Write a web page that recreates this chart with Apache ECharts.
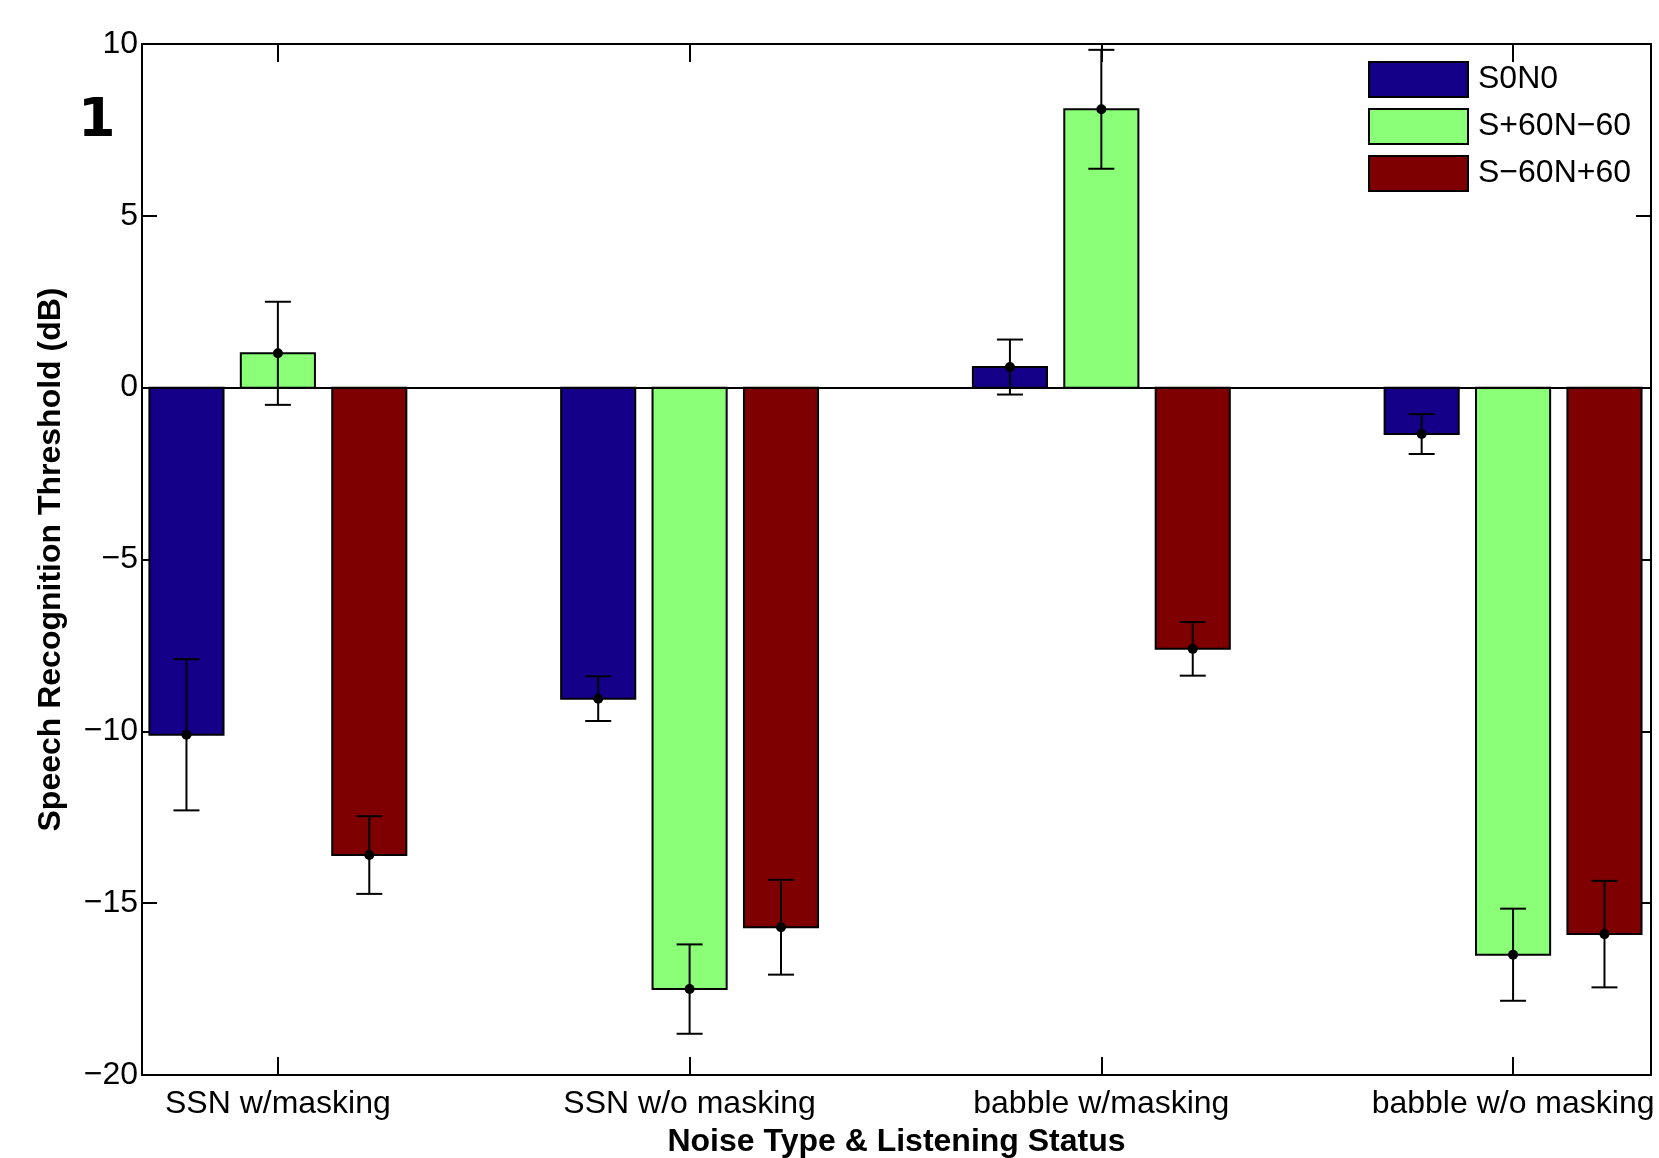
<!DOCTYPE html>
<html>
<head>
<meta charset="utf-8">
<title>Speech Recognition Threshold</title>
<script src="https://cdn.jsdelivr.net/npm/echarts@6/dist/echarts.min.js"></script>
<style>
  html, body { margin: 0; padding: 0; background: #fff; }
  #main { width: 1659px; height: 1158px; }
</style>
</head>
<body>
<div id="main"></div>
<script>
// x categories
var categories = ['SSN w/masking', 'SSN w/o masking', 'babble w/masking', 'babble w/o masking']
var seriesNames = ['S0N0', 'S+60N\u221260', 'S\u221260N+60']
// mean thresholds (dB)
var s0n0 = [-10.1, -9.05, 0.6, -1.35]
var sPlus60 = [1.0, -17.5, 8.1, -16.5]
var sMinus60 = [-13.6, -15.7, -7.6, -15.9]
// error bar half lengths (dB)
var s0n0Err = [2.2, 0.65, 0.8, 0.58]
var sPlus60Err = [1.5, 1.3, 1.73, 1.34]
var sMinus60Err = [1.13, 1.38, 0.78, 1.55]
var colors = ['#140088', '#8aff77', '#7f0000']

var FONT = 'Liberation Sans, Arial, sans-serif'
var BAR_W = 0.18
var offsets = [-0.222, 0, 0.222]

function toData (means, errs) {
  return means.map(function (m, i) { return [i + 1, m, errs[i]] })
}

function barItem (offset) {
  return function (params, api) {
    var x = api.value(0) + offset
    var v = api.value(1)
    var e = api.value(2)
    var p0 = api.coord([x - BAR_W / 2, 0])
    var p1 = api.coord([x + BAR_W / 2, v])
    var c = api.coord([x, v])
    var hi = api.coord([x, v + e])
    var lo = api.coord([x, v - e])
    var black = { stroke: '#000', lineWidth: 2 }
    return {
      type: 'group',
      children: [
        {
          type: 'rect',
          shape: { x: p0[0], y: Math.min(p0[1], p1[1]), width: p1[0] - p0[0], height: Math.abs(p1[1] - p0[1]) },
          style: { fill: api.visual('color'), stroke: '#000', lineWidth: 2 }
        },
        { type: 'line', shape: { x1: c[0], y1: hi[1], x2: c[0], y2: lo[1] }, style: black },
        { type: 'line', shape: { x1: c[0] - 13, y1: hi[1], x2: c[0] + 13, y2: hi[1] }, style: black },
        { type: 'line', shape: { x1: c[0] - 13, y1: lo[1], x2: c[0] + 13, y2: lo[1] }, style: black },
        { type: 'circle', shape: { cx: c[0], cy: c[1], r: 5 }, style: { fill: '#000' } }
      ]
    }
  }
}

var allData = [toData(s0n0, s0n0Err), toData(sPlus60, sPlus60Err), toData(sMinus60, sMinus60Err)]

var axisLine = { show: true, onZero: false, lineStyle: { color: '#000', width: 2 } }
var tickVals = categories.map(function (c, i) { return i + 1 })

var myChart = echarts.init(document.getElementById('main'))
myChart.setOption({
  animation: false,
  backgroundColor: '#fff',
  grid: { left: 142, top: 44, width: 1509, height: 1031, containLabel: false, outerBoundsMode: 'none' },
  legend: {
    orient: 'vertical',
    left: 1363,
    top: 56,
    itemWidth: 99,
    itemHeight: 35,
    itemGap: 10,
    icon: 'rect',
    itemStyle: { borderColor: '#000', borderWidth: 2 },
    textStyle: { fontSize: 32, color: '#000', fontFamily: FONT, padding: [0, 0, 0, 5] },
    data: seriesNames
  },
  xAxis: [
    {
      type: 'value',
      min: 0.67,
      max: 4.335,
      position: 'bottom',
      axisLine: axisLine,
      axisTick: { inside: true, length: 18, customValues: tickVals, lineStyle: { color: '#000', width: 2 } },
      axisLabel: {
        customValues: tickVals,
        formatter: function (v) { return categories[Math.round(v) - 1] },
        color: '#000',
        fontSize: 32,
        fontFamily: FONT,
        margin: 13
      },
      splitLine: { show: false },
      name: 'Noise Type & Listening Status',
      nameLocation: 'middle',
      nameGap: 51,
      nameTextStyle: { fontSize: 32, fontWeight: 'bold', color: '#000', fontFamily: FONT }
    },
    {
      type: 'value',
      min: 0.67,
      max: 4.335,
      position: 'top',
      axisLine: axisLine,
      axisTick: { inside: true, length: 18, customValues: tickVals, lineStyle: { color: '#000', width: 2 } },
      axisLabel: { show: false },
      splitLine: { show: false }
    }
  ],
  yAxis: [
    {
      type: 'value',
      min: -20,
      max: 10,
      interval: 5,
      position: 'left',
      axisLine: axisLine,
      axisTick: { inside: true, length: 15, lineStyle: { color: '#000', width: 2 } },
      axisLabel: {
        formatter: function (v) { return String(v).replace('-', '\u2212') },
        color: '#000',
        fontSize: 32,
        fontFamily: FONT,
        margin: 4
      },
      splitLine: { show: false },
      name: 'Speech Recognition Threshold (dB)',
      nameLocation: 'middle',
      nameRotate: 90,
      nameGap: 75,
      nameTextStyle: { fontSize: 32, fontWeight: 'bold', color: '#000', fontFamily: FONT }
    },
    {
      type: 'value',
      min: -20,
      max: 10,
      interval: 5,
      position: 'right',
      axisLine: axisLine,
      axisTick: { inside: true, length: 15, lineStyle: { color: '#000', width: 2 } },
      axisLabel: { show: false },
      splitLine: { show: false }
    }
  ],
  graphic: [
    {
      type: 'text',
      left: 78,
      top: 95,
      style: { text: '1', font: 'bold 54px "DejaVu Sans"', fill: '#000' }
    }
  ],
  series: seriesNames.map(function (name, k) {
    var s = {
      type: 'custom',
      name: name,
      xAxisIndex: 0,
      yAxisIndex: 0,
      itemStyle: { color: colors[k], borderColor: '#000', borderWidth: 2 },
      renderItem: barItem(offsets[k]),
      data: allData[k]
    }
    if (k === 2) {
      s.markLine = {
        silent: true,
        symbol: 'none',
        label: { show: false },
        lineStyle: { color: '#000', width: 2, type: 'solid' },
        data: [{ yAxis: 0 }]
      }
    }
    return s
  })
})
</script>
</body>
</html>
